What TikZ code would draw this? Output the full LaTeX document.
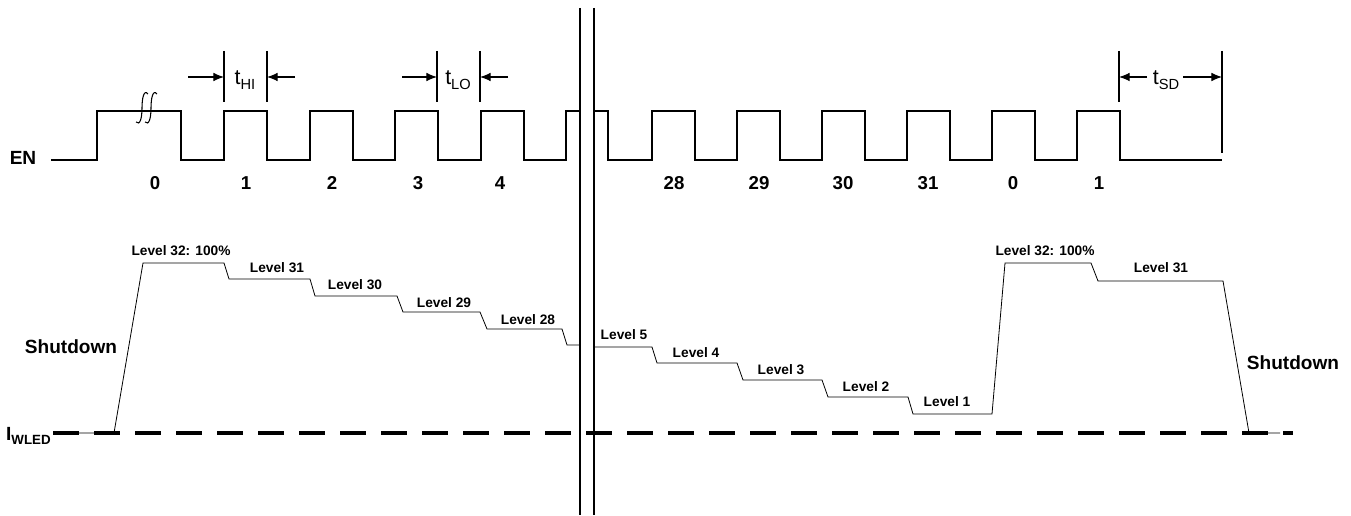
\documentclass[tikz,border=0pt]{standalone}
\usepackage{fontspec}
\setmainfont{Liberation Sans}
\usetikzlibrary{arrows.meta}
\tikzset{
  lvl/.style={font=\bfseries\fontsize{10.3}{12}\selectfont, inner sep=0pt},
  big/.style={font=\bfseries\fontsize{14.3}{17}\selectfont, inner sep=0pt},
  num/.style={font=\bfseries\fontsize{14}{16}\selectfont, inner sep=0pt, anchor=base},
  tim/.style={font=\fontsize{16}{18}\selectfont, inner sep=0pt},
  sig/.style={line width=0.8pt},
  cur/.style={line width=0.6pt},
}
\newcommand{\tlabel}[1]{t\raisebox{-0.45ex}{\fontsize{11}{13}\selectfont #1}}
\begin{document}
\begin{tikzpicture}[>={Latex[length=8pt,width=6.5pt]}, x=0.75pt, y=-0.75pt]
\useasboundingbox (0,0) rectangle (1351,516);
% EN input
\node[big] (en) at (23,158) {EN};
\draw[sig] (51,160) -- (97,160) -- (97,111) -- (181,111) -- (181,160)
  \foreach \r in {224,310,395,481}{ -- (\r,160) -- (\r,111) -- (\r+43,111) -- (\r+43,160) }
  -- (566,160) -- (566,111) -- (580,111);
\draw[sig] (594,111) -- (608,111) -- (608,160)
  \foreach \r in {652,737,822,907,992,1077}{ -- (\r,160) -- (\r,111) -- (\r+43,111) -- (\r+43,160) }
  -- (1222,160);
\foreach \s in {0,9}
  \draw[sig] (136+\s,122) .. controls (140+\s,126) and (142+\s,118) .. (142+\s,108)
    .. controls (142+\s,98) and (144+\s,89) .. (148+\s,94);
\foreach \n/\x [count=\i] in {0/155,1/246,2/332,3/418,4/500,28/674,29/759,30/843,31/928,0/1013,1/1099}
  \node[num] (num\i) at (\x,190) {\n};
% timing marks
\foreach \x/\y in {224/102,267/102,437/102,480/102,1119/102,1222/153}
  \draw[sig] (\x,51) -- (\x,\y);
\coordinate (hia) at (224,77); \coordinate (hib) at (267,77);
\coordinate (loa) at (437,77); \coordinate (lob) at (480,77);
\coordinate (sda) at (1119,77); \coordinate (sdb) at (1222,77);
\draw[sig,->] (188,77) -- (hia);
\draw[sig,->] (295,77) -- (hib);
\draw[sig,->] (402,77) -- (loa);
\draw[sig,->] (508,77) -- (lob);
\draw[sig,->] (1147,77) -- (sda);
\draw[sig,->] (1183,77) -- (sdb);
\node[tim] (thi) at (245,80) {\tlabel{HI}};
\node[tim] (tlo) at (458,80) {\tlabel{LO}};
\node[tim] (tsd) at (1166,80) {\tlabel{SD}};
% LED current
\draw[line width=3pt, dash pattern=on 19.5pt off 11.25pt] (53,433) -- (1293,433);
\draw[cur] (53,433) -- (114,433) -- (143,263) -- (224,263) -- (229,279) -- (310,279)
  -- (315,296) -- (397,296) -- (403,312) -- (480,312) -- (487,329) -- (562,329)
  -- (567,345) -- (580,345);
\draw[cur] (594,347) -- (652,347) -- (657,363) -- (737,363) -- (743,380) -- (822,380)
  -- (828,397) -- (908,397) -- (913,414) -- (992,414) -- (1005,263) -- (1091,263)
  -- (1098,281) -- (1223,281) -- (1249,433) -- (1280,433);
\foreach \t/\x/\y [count=\i] in {{Level 32: 100\%}/181/251,{Level 31}/277/268,{Level 30}/355/285,
    {Level 29}/444/303,{Level 28}/528/320,{Level 5}/624/335,{Level 4}/696/353,{Level 3}/781/370,
    {Level 2}/866/387,{Level 1}/947/402,{Level 32: 100\%}/1045/251,{Level 31}/1161/268}
  \node[lvl] (lv\i) at (\x,\y) {\t};
\node[big] (sdl) at (71,347) {Shutdown};
\node[big] (sdr) at (1293,363) {Shutdown};
\node[big, anchor=east] (iw) at (51,436) {I\raisebox{-0.45ex}{\fontsize{10}{12}\selectfont WLED}};
% break
\draw[line width=1.4pt] (580,8) -- (580,515);
\draw[line width=1.4pt] (594,8) -- (594,515);
\end{tikzpicture}
\end{document}
